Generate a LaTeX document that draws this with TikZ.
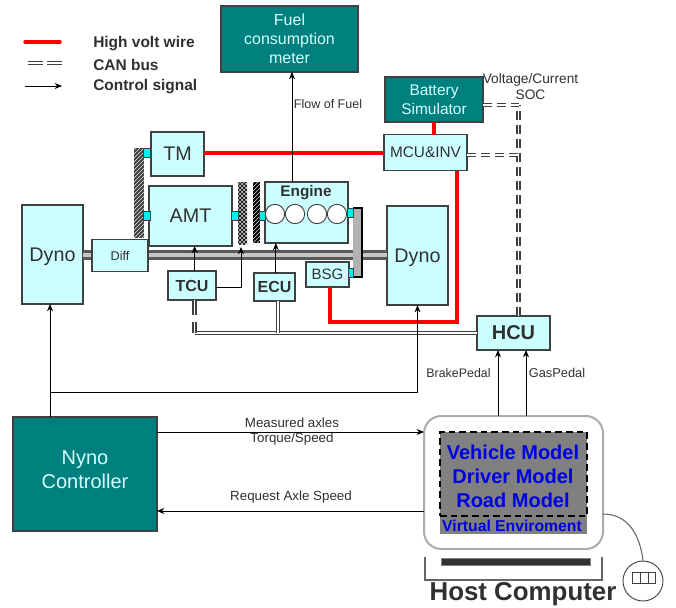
\documentclass[tikz,border=0pt]{standalone}
\usepackage{fontspec}
\setmainfont{Liberation Sans}
\usetikzlibrary{patterns,arrows.meta}
\definecolor{tealbox}{HTML}{007F7F}
\definecolor{cyanbox}{HTML}{CCFFFF}
\definecolor{portcyan}{HTML}{00F0F0}
\definecolor{edgegray}{HTML}{404040}
\definecolor{textgray}{HTML}{303030}
\tikzset{
	sized/.style 2 args={minimum width=#1*0.75pt, minimum height=#2*0.75pt, inner sep=0pt, outer sep=0pt},
	fs/.style 2 args={font=\fontsize{#1}{#2}\selectfont},
	lbox/.style={draw=edgegray, line width=1.1pt, fill=cyanbox, text=textgray, align=center},
	tbox/.style={draw=edgegray, line width=1.1pt, fill=tealbox, text=cyanbox!80!white, align=center},
	port/.style={fill=portcyan, draw=edgegray, line width=.4pt, inner sep=0pt, outer sep=0pt},
	hv/.style={draw=red, line width=2.6pt},
	ctrl/.style={draw=black, line width=.75pt, ->},
	canbus/.style={draw=edgegray, double=white, double distance=1.1pt, line width=1.1pt},
	candash/.style={canbus, dash pattern=on 7pt off 3.5pt},
	lab/.style={text=textgray, inner sep=0pt, align=center},
	blue/.style={text=blue!90!black, inner sep=0pt, font=\bfseries\fontsize{15}{18}\selectfont},
}
\begin{document}
\begin{tikzpicture}[x=0.75pt, y=-0.75pt, >={Stealth[length=5.5pt,width=4.5pt]}]
	\useasboundingbox (0,0) rectangle (676,608);
	% legend
	\path (25,42) coordinate (hvA) (60,42) coordinate (hvB);
	\path (28,63) coordinate (canA) (62,63) coordinate (canB);
	\path (25,86) coordinate (ctlA) (62,86) coordinate (ctlB);
	\draw[hv, line cap=round] (hvA)--(hvB);
	\draw[canbus, dash pattern=on 11pt off 3.5pt] (canA)--(canB);
	\draw[ctrl] (ctlA)--(ctlB);
	\node[lab, anchor=west, font=\bfseries\fontsize{11.6}{14}\selectfont] (hvlab) at (93,43.5) {High volt wire};
	\node[lab, anchor=west, font=\bfseries\fontsize{11.6}{14}\selectfont] (canlab) at (93,65) {CAN bus};
	\node[lab, anchor=west, font=\bfseries\fontsize{11.6}{14}\selectfont] (ctllab) at (93,86.5) {Control signal};
	% dynos, shaft and the boxes on it
	\node[lbox, sized={61}{99}, fs={14.8}{18}, text depth=0pt] (dynol) at (52.5,254.5) {Dyno};
	\node[lbox, sized={61}{99}, fs={14.8}{18}, text depth=0pt] (dynor) at (417.5,255.5) {Dyno};
	\draw[draw=gray!70!black, line width=7.5pt] (dynol.east |- 0,255)--(dynor.west |- 0,255);
	\draw[draw=gray!45, line width=2.5pt] (dynol.east |- 0,255)--(dynor.west |- 0,255);
	\fill[edgegray] (134,148) rectangle (144,238);
	\path[pattern=north east lines, pattern color=white!80!gray] (134,148) rectangle (144,238);
	\fill[gray!55] (238,182) rectangle (247,244);
	\path[pattern=crosshatch, pattern color=black] (238,182) rectangle (247,244);
	\fill[black] (253,182) rectangle (260,243);
	\path[pattern=north east lines, pattern color=white!70!gray] (253,182) rectangle (260,243);
	\fill[gray!60] (353,208) rectangle (362,277);
	\draw[line width=1.6pt] (353,208)--(362,208)--(362,277)--(353,277);
	\node[lbox, sized={53}{44}, fs={14.8}{18}] (tm) at (177.5,154) {TM};
	\node[lbox, sized={83}{60}, fs={14.8}{18}] (amt) at (190.5,216) {AMT};
	\node[lbox, sized={83}{61}] (engine) at (306.5,212.5) {};
	\node[lab, font=\bfseries\fontsize{11.5}{14}\selectfont] (englab) at (306,193) {Engine};
	\foreach \x/\n in {275/a,295/b,317/c,337/d}
		\node[circle, draw=edgegray, line width=.7pt, fill=white, minimum size=14.5pt, inner sep=0pt] (cyl\n) at (\x,214) {};
	\node[lbox, sized={56}{32}, fs={9.5}{11}] (diff) at (120,255.5) {Diff};
	\node[lbox, sized={48}{29}, font=\bfseries\fontsize{12}{14}\selectfont] (tcu) at (192,285.5) {TCU};
	\node[lbox, sized={41}{28}, font=\bfseries\fontsize{12}{14}\selectfont] (ecu) at (274.5,287) {ECU};
	\node[lbox, sized={43}{25}, fs={11.3}{14}] (bsg) at (327.5,274.5) {BSG};
	\node[port, minimum width=5.5pt, minimum height=6.5pt] (ptm) at (146.5,153) {};
	\node[port, minimum width=5.5pt, minimum height=6.5pt] (pamtl) at (146.5,216) {};
	\node[port, minimum width=5pt, minimum height=6.5pt] (pamtr) at (235,216) {};
	\node[port, minimum width=4.5pt, minimum height=6.5pt] (pengl) at (262.5,216) {};
	\node[port, minimum width=4.5pt, minimum height=6.5pt] (pengr) at (350.5,213) {};
	\node[port, minimum width=4pt, minimum height=6.5pt] (pbsg) at (351,273) {};
	% upper boxes
	\node[tbox, sized={137}{66}, fs={12}{14.2}] (fuel) at (289.5,39) {Fuel\\consumption\\meter};
	\node[tbox, sized={98}{45}, fs={11.6}{14}] (batt) at (434,99.5) {Battery\\Simulator};
	\node[lbox, sized={83}{36}, fs={11.5}{14}] (mcu) at (425.5,152.5) {MCU\&INV};
	\node[lbox, sized={73}{34}, font=\bfseries\fontsize{15}{18}\selectfont] (hcu) at (513.5,333) {HCU};
	\node[tbox, sized={144}{114}] (nyno) at (85,474) {};
	\node[lab, text=cyanbox!80!white, fs={15}{18}] (nynolab) at (85,470) {Nyno\\Controller};
	% host computer
	\node[draw=gray!65, line width=1.5pt, fill=white, rounded corners=13pt, sized={179}{133}] (host) at (513.5,482.5) {};
	\node[fill=gray, sized={147}{102}] (screen) at (513.5,483) {};
	\node[draw=black, dash pattern=on 5pt off 3pt, line width=.8pt, sized={147}{84}] (models) at (513.5,474) {};
	\node[blue] (vehicle) at (513,452) {Vehicle Model};
	\node[blue] (driver) at (513,476) {Driver Model};
	\node[blue] (road) at (513,500) {Road Model};
	\node[blue, font=\bfseries\fontsize{11.8}{14}\selectfont] (virt) at (512,526) {Virtual Enviroment};
	\node[draw=gray, fill=black!80, sized={149}{7}] (kbd) at (515.5,562) {};
	\draw[draw=edgegray!80, line width=1pt] (425,557)--(425,580)--(602,580)--(602,557);
	\node[lab, font=\bfseries\fontsize{19.4}{22}\selectfont] (hostlab) at (523,594) {Host Computer};
	\node[circle, draw=edgegray, line width=.7pt, minimum size=30pt, inner sep=0pt] (mouse) at (643,581) {};
	\draw[draw=edgegray, line width=.6pt] (632,572) rectangle (655,583);
	\draw[draw=edgegray, line width=.6pt] (640,572)--(640,583) (648,572)--(648,583);
	\draw[draw=gray!80!black, line width=.8pt] (host.east |- 0,514) .. controls (628,514) and (640,535) .. (mouse.north);
	% high volt wires
	\draw[hv] (tm.east |- 0,153)--(mcu.west |- 0,153);
	\draw[hv] (batt.south |- 0,122)--(batt.south |- mcu.north);
	\path (457,322) coordinate (hvcorner);
	\draw[hv] (hvcorner |- mcu.south)--(hvcorner)--(330,322)--(330,287);
	% can bus
	\path (518.5,105) coordinate (cantop) (518.5,155) coordinate (canmid);
	\draw[candash] (hcu.north -| cantop)--(cantop);
	\draw[candash] (batt.east |- cantop)--(cantop);
	\draw[candash] (mcu.east |- canmid)--(canmid);
	\path (0,333) coordinate (busy);
	\draw[canbus] (hcu.west)--([xshift=2pt]tcu.south |- busy);
	\draw[canbus] ([xshift=2pt]tcu.south |- 0,322)--([xshift=2pt]tcu.south |- busy);
	\draw[canbus] ([xshift=2pt]tcu.south)--([xshift=2pt]tcu.south |- 0,315);
	\draw[canbus] ([xshift=2.5pt]ecu.south)--([xshift=2.5pt]ecu.south |- busy);
	% control signals
	\draw[ctrl] (engine.north -| 292,0)--(fuel.south -| 292,0);
	\draw[ctrl] ([xshift=2pt]tcu.north)--([xshift=2pt]tcu.north |- amt.south);
	\draw[ctrl] (tcu.east |- 0,287)-|(241,247);
	\draw[ctrl] ([xshift=1pt]ecu.north)--([xshift=1pt]ecu.north |- engine.south);
	\path (50,392) coordinate (split) (0,432) coordinate (mtop) (0,511) coordinate (mlow);
	\draw[ctrl] (split |- nyno.north)--(split |- dynol.south);
	\draw[ctrl] (split)-|(dynor.south);
	\draw[ctrl] ([xshift=-11.6pt]host.north)--([xshift=-11.6pt]hcu.south);
	\draw[ctrl] ([xshift=9.4pt]host.north)--([xshift=9.4pt]hcu.south);
	\draw[ctrl] (nyno.east |- mtop)--(host.west |- mtop);
	\draw[ctrl] (host.west |- mlow)--(nyno.east |- mlow);
	% labels
	\node[lab, fs={9.4}{12}] (flowlab) at (328,104) {Flow of Fuel};
	\node[lab, fs={10.3}{12}] (voltlab) at (530.5,87) {Voltage/Current\\SOC};
	\node[lab, fs={9.3}{12}] (brakelab) at (458.5,373) {BrakePedal};
	\node[lab, fs={9.6}{12}] (gaslab) at (557,373) {GasPedal};
	\node[lab, fs={10}{11.3}] (measlab) at (292,431.5) {Measured axles\\Torque/Speed};
	\node[lab, fs={10}{12}] (reqlab) at (291,497) {Request Axle Speed};
\end{tikzpicture}
\end{document}
